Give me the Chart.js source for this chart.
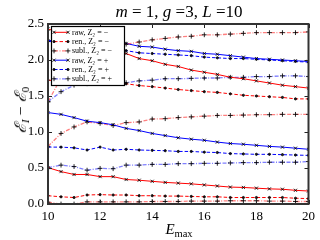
<!DOCTYPE html>
<html>
<head>
<meta charset="utf-8">
<script src="https://cdn.jsdelivr.net/npm/chart.js@4/dist/chart.umd.min.js"></script>
<style>
html,body{margin:0;padding:0;background:#fff;}
#wrap{position:relative;width:320px;height:240px;overflow:hidden;}
canvas{position:absolute;left:0;top:0;}
.t{position:absolute;font-family:"Liberation Serif","DejaVu Serif",serif;color:#000;white-space:nowrap;}
#title{left:0;width:358px;top:2px;text-align:center;font-size:17px;}
#xlab{left:0;width:358px;top:221px;text-align:center;font-size:15px;}
#ylab{left:20px;top:110px;font-size:16px;transform:translate(-50%,-50%) rotate(-90deg);}
sub{font-size:70%;vertical-align:-0.25em;line-height:0;}
</style>
</head>
<body>
<div id="wrap">
<canvas id="c" width="320" height="240"></canvas>
<div class="t" id="title"><i>m</i> = 1, <i>g</i> =3, <i>L</i> =10</div>
<div class="t" id="xlab"><i>E</i><sub>max</sub></div>
<div class="t" id="ylab"><i>ℰ</i><sub><i>I</i></sub> − <i>ℰ</i><sub>0</sub></div>
</div>
<script>
// ---- data ----
const E = [10,10.5,11,11.5,12,12.5,13,13.5,14,14.5,15,15.5,16,16.5,17,17.5,18,18.5,19,19.5,20];
const xTicks = [10,12,14,16,18,20];
const yTicks = [0.0,0.5,1.0,1.5,2.0,2.5];

// Z2 = -  (red)
const rawMinus1  = [0.505,0.45,0.41,0.41,0.38,0.38,0.34,0.33,0.315,0.30,0.29,0.28,0.265,0.25,0.235,0.23,0.22,0.21,0.205,0.19,0.18];
const renMinus1  = [0.115,0.10,0.09,0.125,0.13,0.125,0.125,0.115,0.115,0.11,0.11,0.105,0.10,0.10,0.09,0.09,0.09,0.09,0.09,0.08,0.075];
const sublMinus1 = [0.025,0.0,0.0,0.03,0.03,0.03,0.03,0.03,0.035,0.035,0.035,0.04,0.04,0.04,0.045,0.045,0.045,0.04,0.04,0.035,0.035];
const rawMinus2  = [2.43,2.38,2.32,2.27,2.21,2.15,2.09,2.02,1.99,1.94,1.91,1.86,1.83,1.80,1.76,1.74,1.71,1.68,1.65,1.63,1.61];
const renMinus2  = [1.72,1.71,1.70,1.69,1.69,1.68,1.67,1.645,1.63,1.61,1.59,1.575,1.56,1.55,1.53,1.51,1.50,1.49,1.48,1.46,1.46];
const sublMinus2 = [0.80,0.98,1.07,1.14,1.12,1.09,1.13,1.14,1.18,1.185,1.20,1.21,1.22,1.23,1.23,1.235,1.24,1.24,1.245,1.245,1.245];
const sublMinus3 = [1.42,1.75,1.95,2.06,2.13,2.18,2.22,2.25,2.28,2.30,2.32,2.33,2.35,2.35,2.36,2.37,2.38,2.38,2.38,2.38,2.39];

// Z2 = +  (blue)
const rawPlus1  = [1.27,1.245,1.20,1.15,1.13,1.10,1.05,1.02,0.98,0.95,0.92,0.90,0.885,0.86,0.84,0.83,0.815,0.80,0.79,0.775,0.76];
const renPlus1  = [0.79,0.79,0.78,0.75,0.79,0.75,0.76,0.75,0.745,0.74,0.73,0.73,0.72,0.715,0.70,0.695,0.69,0.69,0.685,0.68,0.675];
const sublPlus1 = [0.505,0.54,0.52,0.47,0.495,0.49,0.54,0.54,0.55,0.55,0.56,0.56,0.565,0.565,0.57,0.575,0.575,0.58,0.58,0.58,0.59];
const rawPlus2  = [2.27,2.27,2.26,2.26,2.25,2.24,2.23,2.19,2.18,2.15,2.13,2.12,2.09,2.08,2.06,2.04,2.02,2.01,2.00,1.99,1.98];
const renPlus2  = [2.26,2.24,2.21,2.19,2.17,2.15,2.13,2.10,2.09,2.08,2.07,2.06,2.04,2.03,2.02,2.02,2.01,2.00,1.99,1.98,1.97];
const sublPlus2 = [1.42,1.56,1.65,1.67,1.68,1.68,1.685,1.71,1.72,1.74,1.74,1.745,1.75,1.75,1.76,1.76,1.77,1.77,1.78,1.78,1.77];

const legendLabels = ['raw, Z\u2082 = \u2212','ren., Z\u2082 = \u2212','subl., Z\u2082 = \u2212',
                      'raw, Z\u2082 = +','ren., Z\u2082 = +','subl., Z\u2082 = +'];

// ---- styles ----
const RED = 'rgb(255,0,0)', BLUE = 'rgb(0,0,255)';
const REDL = 'rgba(255,0,0,0.5)', BLUEL = 'rgba(0,0,255,0.5)';
const MK = 'rgba(0,0,0,0.85)';
function style(kind, color, light){
  if (kind==='raw') return {borderColor:color, borderDash:[], pointStyle:'crossRot', pointRadius:2.2};
  if (kind==='ren') return {borderColor:color, borderDash:[3.5,2], pointStyle:'circle', pointRadius:1.1};
  return {borderColor:light, borderDash:[4,1.5,1,1.5], pointStyle:'cross', pointRadius:2.4, borderWidth:1.3};
}
function ds(vals, kind, color, light, leg){
  const s = style(kind, color, light);
  return Object.assign({
    data: E.map((x,i)=>({x:x, y:vals[i]})),
    borderWidth:1, pointBorderColor:MK, pointBackgroundColor:MK, pointBorderWidth:1,
    fill:false, tension:0, legIndex:leg
  }, s);
}
const datasets = [
  ds(rawMinus1,'raw',RED,REDL,0), ds(renMinus1,'ren',RED,REDL,1), ds(sublMinus1,'subl',RED,REDL,2),
  ds(rawPlus1,'raw',BLUE,BLUEL,3), ds(renPlus1,'ren',BLUE,BLUEL,4), ds(sublPlus1,'subl',BLUE,BLUEL,5),
  ds(rawMinus2,'raw',RED,REDL,-1), ds(renMinus2,'ren',RED,REDL,-1), ds(sublMinus2,'subl',RED,REDL,-1),
  ds(sublMinus3,'subl',RED,REDL,-1),
  ds(rawPlus2,'raw',BLUE,BLUEL,-1), ds(renPlus2,'ren',BLUE,BLUEL,-1), ds(sublPlus2,'subl',BLUE,BLUEL,-1)
];

const FONT = '"Liberation Serif","DejaVu Serif",serif';

const framePlugin = {
  id:'frame',
  afterDatasetsDraw(chart){
    const ctx = chart.ctx, a = chart.chartArea;
    const xs = chart.scales.x, ys = chart.scales.y;
    ctx.save();
    // inward ticks on all four sides
    ctx.strokeStyle = '#222'; ctx.lineWidth = 1;
    const L = 4;
    xTicks.forEach(v=>{
      const px = Math.round(xs.getPixelForValue(v))+0.5;
      ctx.beginPath(); ctx.moveTo(px,a.bottom); ctx.lineTo(px,a.bottom-L);
      ctx.moveTo(px,a.top); ctx.lineTo(px,a.top+L); ctx.stroke();
    });
    yTicks.forEach(v=>{
      const py = Math.round(ys.getPixelForValue(v))+0.5;
      ctx.beginPath(); ctx.moveTo(a.left,py); ctx.lineTo(a.left+L,py);
      ctx.moveTo(a.right,py); ctx.lineTo(a.right-L,py); ctx.stroke();
    });
    // legend
    const lx = 51, ly = 26, lw = 73, lh = 59, rowH = 9.3;
    ctx.fillStyle = '#fff'; ctx.fillRect(lx,ly,lw,lh);
    ctx.strokeStyle = '#000'; ctx.lineWidth = 1.2; ctx.setLineDash([]);
    ctx.strokeRect(lx+0.5,ly+0.5,lw,lh);
    const legSets = datasets.filter(d=>d.legIndex>=0).sort((p,q)=>p.legIndex-q.legIndex);
    legSets.forEach((d,i)=>{
      const y = ly + 6.3 + i*rowH;
      const x0 = lx+3, x1 = lx+17;
      ctx.strokeStyle = d.borderColor; ctx.lineWidth = d.borderWidth;
      ctx.setLineDash(d.borderDash);
      ctx.beginPath(); ctx.moveTo(x0,y); ctx.lineTo(x1,y); ctx.stroke();
      ctx.setLineDash([]);
      ctx.strokeStyle = MK; ctx.fillStyle = MK; ctx.lineWidth = 1;
      [x0,x1].forEach(px=>{
        Chart.helpers.drawPoint(ctx,{pointStyle:d.pointStyle, radius:d.pointRadius, borderWidth:1}, px, y);
      });
      ctx.fillStyle = '#000';
      ctx.font = '8px ' + FONT;
      ctx.textBaseline = 'middle'; ctx.textAlign = 'left';
      ctx.fillText(legendLabels[i], lx+21, y+0.5);
    });
    ctx.restore();
  },
  afterDraw(chart){
    const ctx = chart.ctx, a = chart.chartArea;
    ctx.save();
    ctx.strokeStyle = '#333'; ctx.lineWidth = 2; ctx.setLineDash([]);
    ctx.strokeRect(a.left, a.top, a.right-a.left, a.bottom-a.top);
    ctx.restore();
  }
};

new Chart(document.getElementById('c'), {
  type:'line',
  data:{datasets},
  options:{
    responsive:false, animation:false, devicePixelRatio:1,
    layout:{padding:{top:24,right:10,left:0,bottom:0}},
    plugins:{legend:{display:false}, title:{display:false}, tooltip:{enabled:false}},
    scales:{
      x:{type:'linear', min:10, max:20,
         afterBuildTicks(s){ s.ticks = xTicks.map(v=>({value:v})); },
         afterFit(s){ s.height = 36; },
         grid:{display:false, drawTicks:false}, border:{display:false},
         ticks:{padding:5, color:'#000', font:{family:FONT, size:13}, callback:v=>String(v), maxRotation:0}},
      y:{type:'linear', min:0, max:2.5,
         afterBuildTicks(s){ s.ticks = yTicks.map(v=>({value:v})); },
         afterFit(s){ s.width = 48; },
         grid:{display:false, drawTicks:false}, border:{display:false},
         ticks:{padding:4, color:'#000', font:{family:FONT, size:13}, callback:v=>Number(v).toFixed(1)}}
    }
  },
  plugins:[framePlugin]
});
</script>
</body>
</html>
